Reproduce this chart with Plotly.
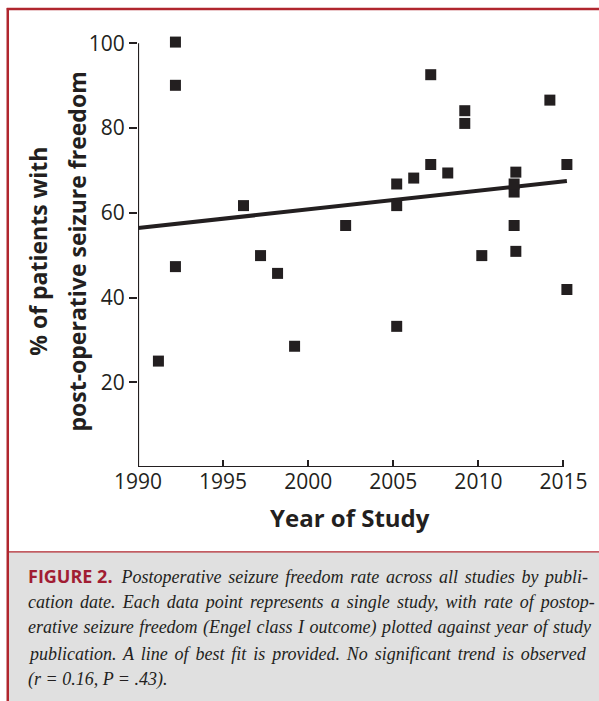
import plotly.graph_objects as go

# ---- data ----
years = [1991.2, 1992.2, 1992.2, 1992.2, 1996.2, 1997.2, 1998.2, 1999.2, 2002.2,
         2005.2, 2005.2, 2005.2, 2006.2, 2007.2, 2007.2, 2008.2, 2009.2, 2009.2,
         2010.2, 2012.1, 2012.1, 2012.1, 2012.2, 2012.2, 2014.2, 2015.2, 2015.2]
rates = [25.0, 100.3, 90.1, 47.3, 61.7, 49.9, 45.7, 28.5, 57.0,
         33.2, 61.7, 66.8, 68.2, 92.6, 71.4, 69.4, 84.1, 81.1,
         49.9, 57.0, 64.9, 66.8, 69.6, 50.9, 86.6, 71.4, 41.9]
fit_years = [1990, 2015.2]
fit_rates = [56.4, 67.5]
x_ticks = [1990, 1995, 2000, 2005, 2010, 2015]
y_ticks = [20, 40, 60, 80, 100]
x_axis_span = [1990, 2015]
y_axis_span = [0, 100]

caption_lines = [
    "Postoperative seizure freedom rate across all studies by publi-",
    "cation date. Each data point represents a single study, with rate of postop-",
    "erative seizure freedom (Engel class I outcome) plotted against year of study",
    "publication. A line of best fit is provided. No significant trend is observed",
    "(r = 0.16, P = .43).",
]

W, H = 599, 701
XR = [1990, 2015.5]
YR = [0, 101.5]
# pixel frame: 1990 -> 138, 2015 -> 566 ; 0 -> 467, 100 -> 43
L, B = 138, 467
R = 138 + (566 - 138) * (XR[1] - 1990) / 25
T = 467 - (467 - 43) * YR[1] / 100
INK = "#231f20"
RED = "#b0262e"

def px(x):
    return (x - L) / (R - L)

def py(y):
    return (B - y) / (B - T)

fig = go.Figure()
fig.add_trace(go.Scatter(x=fit_years, y=fit_rates, mode="lines",
                         line=dict(color=INK, width=4), hoverinfo="skip",
                         showlegend=False))
fig.add_trace(go.Scatter(x=years, y=rates, mode="markers",
                         marker=dict(symbol="square", size=11, color=INK),
                         cliponaxis=False, showlegend=False))

sans = "Open Sans"
fig.update_xaxes(range=XR, tickvals=x_ticks, showline=False,
                 ticks="inside", ticklen=7,
                 tickwidth=2, tickcolor=INK, showgrid=False, zeroline=False,
                 tickfont=dict(family=sans, size=21, color=INK))
fig.update_yaxes(range=YR, tickvals=y_ticks, showline=False,
                 ticks="outside", ticklen=8,
                 tickwidth=2, tickcolor=INK, showgrid=False, zeroline=False,
                 tickfont=dict(family=sans, size=21, color=INK))

shapes = [
    # axis lines limited to the labelled span
    dict(type="line", xref="x", yref="y", x0=x_axis_span[0], x1=x_axis_span[1],
         y0=y_axis_span[0], y1=y_axis_span[0], line=dict(color=INK, width=2.2)),
    dict(type="line", xref="x", yref="y", x0=x_axis_span[0], x1=x_axis_span[0],
         y0=y_axis_span[0], y1=y_axis_span[1], line=dict(color=INK, width=2.2)),
    # caption background
    dict(type="rect", xref="paper", yref="paper", x0=px(7), x1=px(W + 5),
         y0=py(552), y1=py(H + 5), fillcolor="#e0e0e0", line=dict(width=0), layer="below"),
    dict(type="line", xref="paper", yref="paper", x0=px(7), x1=px(W + 5),
         y0=py(552), y1=py(552), line=dict(color=RED, width=1.3)),
    dict(type="line", xref="paper", yref="paper", x0=px(6), x1=px(W + 5),
         y0=py(8.5), y1=py(8.5), line=dict(color=RED, width=2.5)),
    dict(type="line", xref="paper", yref="paper", x0=px(7), x1=px(7),
         y0=py(7.5), y1=py(H + 5), line=dict(color=RED, width=2.5)),
]

ann = [
    dict(text="<b>Year of Study</b>", x=px(351), y=py(518), xref="paper", yref="paper",
         showarrow=False, font=dict(family=sans, size=24, color=INK),
         xanchor="center", yanchor="middle"),
    dict(text="<b>% of patients with</b>", x=px(38), y=py(251), xref="paper", yref="paper",
         showarrow=False, textangle=-90, font=dict(family=sans, size=23, color=INK),
         xanchor="center", yanchor="middle"),
    dict(text="<b>post-operative seizure freedom</b>", x=px(77), y=py(251), xref="paper",
         yref="paper", showarrow=False, textangle=-90,
         font=dict(family=sans, size=23, color=INK), xanchor="center", yanchor="middle"),
]

serif = "Liberation Serif"
line_y = [576, 602, 628, 654, 680]
word_gap = [2.2, 2.6, 1.0, 2.4, 0]
for i, (txt, yy) in enumerate(zip(caption_lines, line_y)):
    body = ("<span style='word-spacing:%.1fpx'><i>%s</i></span>" % (word_gap[i], txt))
    if i == 0:
        t = ("<span style='font-family:\"Open Sans\";font-weight:bold;color:#a11d33;"
             "font-style:normal'>FIGURE 2.</span>  " + body)
    else:
        t = body
    ann.append(dict(text=t, x=px(25), y=py(yy), xref="paper", yref="paper",
                    showarrow=False, xanchor="left", yanchor="middle",
                    font=dict(family=serif, size=18, color=INK)))

fig.update_layout(width=W, height=H, margin=dict(l=L, r=W - R, t=T, b=H - B),
                  paper_bgcolor="white", plot_bgcolor="white",
                  shapes=shapes, annotations=ann, showlegend=False)

fig.write_html("out.html", config={"displayModeBar": False},
               post_script="document.body.style.margin='0';")
